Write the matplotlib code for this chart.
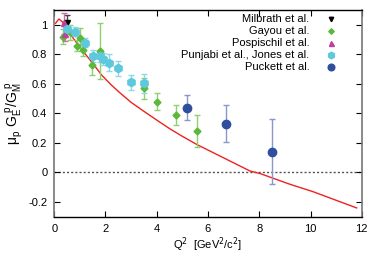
import matplotlib
matplotlib.use("Agg")
import matplotlib.pyplot as plt
import numpy as np

plt.rcParams['font.family'] = ['Liberation Sans', 'DejaVu Sans']

# theory curve
curve_q2 = [0.05, 0.18, 0.32, 0.5, 0.74, 1.13, 1.5, 1.85, 2.2, 2.56, 3.0, 3.41,
            4.0, 4.52, 5.0, 5.56, 6.6, 7.64, 8.03, 9.2, 10.1, 11.8]
curve_r = [1.01, 1.04, 1.02, 0.97, 0.91, 0.82, 0.74, 0.66, 0.597, 0.54, 0.475,
           0.425, 0.355, 0.295, 0.245, 0.19, 0.10, 0.01, -0.007, -0.08, -0.13,
           -0.24]

# Milbrath et al.
mil_q2 = [0.49]
mil_r = [1.01]
mil_err = [0.06]

# Gayou et al.
gay_q2 = [0.35, 0.62, 0.87, 1.0, 1.13, 1.46, 1.77, 3.5, 4.0, 4.75, 5.56]
gay_r = [0.92, 0.95, 0.86, 0.91, 0.83, 0.73, 0.82, 0.57, 0.48, 0.39, 0.28]
gay_err = [0.05, 0.05, 0.04, 0.07, 0.04, 0.07, 0.19, 0.07, 0.06, 0.065, 0.11]

# Pospischil et al.
pos_q2 = [0.37, 0.43]
pos_r = [1.01, 0.94]
pos_err = [0.07, 0.05]

# Punjabi et al., Jones et al.
pun_q2 = [0.49, 0.8, 1.2, 1.5, 1.78, 1.92, 2.15, 2.5, 2.98, 3.5]
pun_r = [0.97, 0.955, 0.88, 0.79, 0.79, 0.77, 0.745, 0.705, 0.61, 0.605]
pun_err = [0.03, 0.03, 0.03, 0.04, 0.04, 0.04, 0.06, 0.05, 0.05, 0.065]

# Puckett et al.
puc_q2 = [5.17, 6.7, 8.49]
puc_r = [0.44, 0.33, 0.14]
puc_err = [0.085, 0.125, 0.22]

labels = ["Milbrath et al.", "Gayou et al.", "Pospischil et al.",
          "Punjabi et al., Jones et al.", "Puckett et al."]

fig = plt.figure(figsize=(3.82, 2.59), dpi=100)
ax = fig.add_axes([0.142, 0.163, 0.805, 0.798])

ax.axhline(0, color='#555555', lw=1, ls=(0, (1.5, 1.5)), zorder=1)
ax.plot(curve_q2, curve_r, color='#ee2222', lw=1, zorder=2)

sets = [
    (mil_q2, mil_r, mil_err, 'v', 'black', '#444444', 4),
    (gay_q2, gay_r, gay_err, 'D', '#5cb83a', '#8fd070', 3.5),
    (pos_q2, pos_r, pos_err, '^', '#c0409a', '#d070b0', 4.5),
    (pun_q2, pun_r, pun_err, 'h', '#5ec8dc', '#8fd8e8', 6),
    (puc_q2, puc_r, puc_err, 'o', '#2f4f9e', '#8898cc', 6),
]
for q2, r, err, mk, col, ecol, ms in sets:
    ax.errorbar(q2, r, yerr=err, fmt=mk, color=col, ecolor=ecol, ms=ms,
                elinewidth=1, capsize=2, capthick=1, zorder=3)

# legend, gnuplot style (text right, marker after)
for i, (lab, s) in enumerate(zip(labels, sets)):
    yy = 0.955 - i * 0.058
    ax.text(0.83, yy, lab, transform=ax.transAxes, ha='right', va='center',
            fontsize=8)
    ax.plot([0.90], [yy], marker=s[3], color=s[4], ms=s[6] * 0.8,
            transform=ax.transAxes, clip_on=False)

ax.set_xlim(0, 12)
ax.set_ylim(-0.3, 1.1)
ax.set_xticks(np.arange(0, 13, 2))
ax.set_yticks([-0.2, 0, 0.2, 0.4, 0.6, 0.8, 1])
ax.set_yticklabels(['-0.2', '0', '0.2', '0.4', '0.6', '0.8', '1'])
ax.tick_params(direction='in', top=True, right=True, labelsize=8, length=4,
               width=0.8, pad=5)
for side in ['left', 'right']:
    ax.spines[side].set_color('#777777')
    ax.spines[side].set_linewidth(1.2)
for side in ['top', 'bottom']:
    ax.spines[side].set_color('black')
    ax.spines[side].set_linewidth(1.0)

ax.set_xlabel(r'Q$^2$  [GeV$^2$/c$^2$]', fontsize=8, labelpad=1)
ax.set_ylabel(r'$\mathregular{\mu_p\ G_E^{\ p}/G_M^{\ p}}$', fontsize=10, labelpad=2)

fig.savefig("out.png", dpi=100)
